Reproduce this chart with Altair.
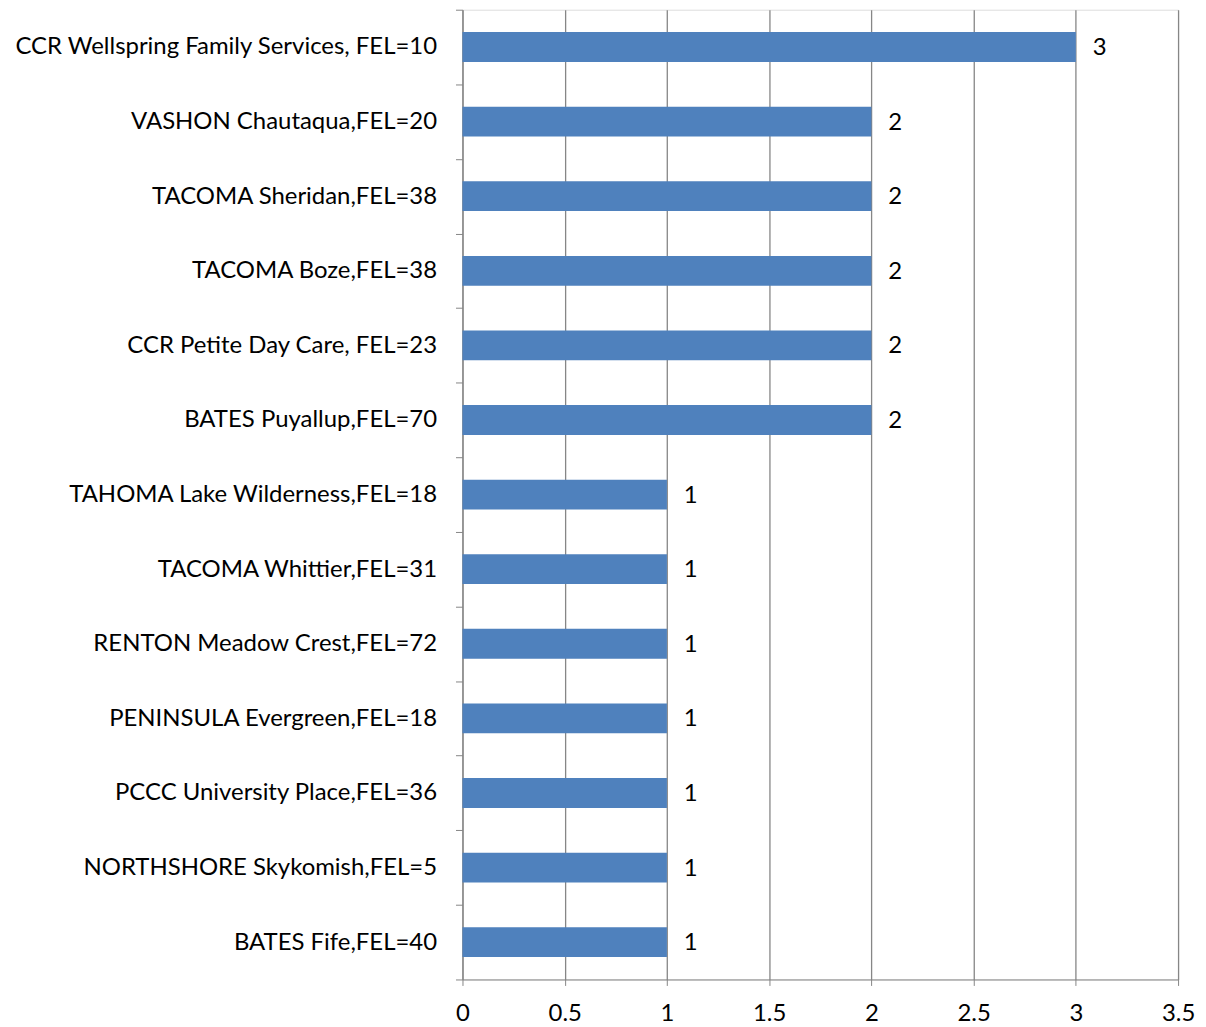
import altair as alt
import pandas as pd

categories = [
    "CCR Wellspring Family Services, FEL=10",
    "VASHON Chautaqua,FEL=20",
    "TACOMA Sheridan,FEL=38",
    "TACOMA Boze,FEL=38",
    "CCR Petite Day Care, FEL=23",
    "BATES Puyallup,FEL=70",
    "TAHOMA Lake Wilderness,FEL=18",
    "TACOMA Whittier,FEL=31",
    "RENTON Meadow Crest,FEL=72",
    "PENINSULA Evergreen,FEL=18",
    "PCCC University Place,FEL=36",
    "NORTHSHORE Skykomish,FEL=5",
    "BATES Fife,FEL=40",
]
values = [3, 2, 2, 2, 2, 2, 1, 1, 1, 1, 1, 1, 1]
x_ticks = [0, 0.5, 1, 1.5, 2, 2.5, 3, 3.5]

df = pd.DataFrame({"cat": categories, "val": values})

FONT = "Lato"
GREY = "#868686"

y_enc = alt.Y(
    "cat:N",
    sort=categories,
    title=None,
    scale=alt.Scale(paddingInner=0, paddingOuter=0),
    axis=alt.Axis(
        tickBand="extent",
        tickSize=7,
        tickColor=GREY,
        domainColor=GREY,
        labelFont=FONT,
        labelFontSize=24,
        labelColor="#000000",
        labelPadding=19,
        labelLimit=600,
        grid=False,
    ),
)
x_enc = alt.X(
    "val:Q",
    title=None,
    scale=alt.Scale(domain=[0, 3.5], nice=False),
    axis=alt.Axis(
        values=x_ticks,
        tickSize=6,
        tickColor=GREY,
        domainColor=GREY,
        gridColor=GREY,
        gridWidth=1.3,
        labelFont=FONT,
        labelFontSize=24,
        labelColor="#000000",
        labelPadding=16,
        labelFlush=False,
        format="~g",
    ),
)

bars = alt.Chart(df).mark_bar(color="#4F81BD", height={"band": 0.4}).encode(x=x_enc, y=y_enc)
text = alt.Chart(df).mark_text(
    align="left", baseline="middle", dx=17, dy=1, font=FONT, fontSize=24, color="#000000"
).encode(x=alt.X("val:Q"), y=alt.Y("cat:N", sort=categories), text="val:Q")

chart = (
    alt.layer(bars, text)
    .properties(
        width=718,
        height=973,
        autosize=alt.AutoSizeParams(type="none"),
        padding={"left": 456, "top": 0, "right": 20, "bottom": 52},
    )
    .configure_view(stroke=None)
    .configure(background="white")
)

chart.save("out.html", embed_options={"renderer": "svg", "actions": False})
